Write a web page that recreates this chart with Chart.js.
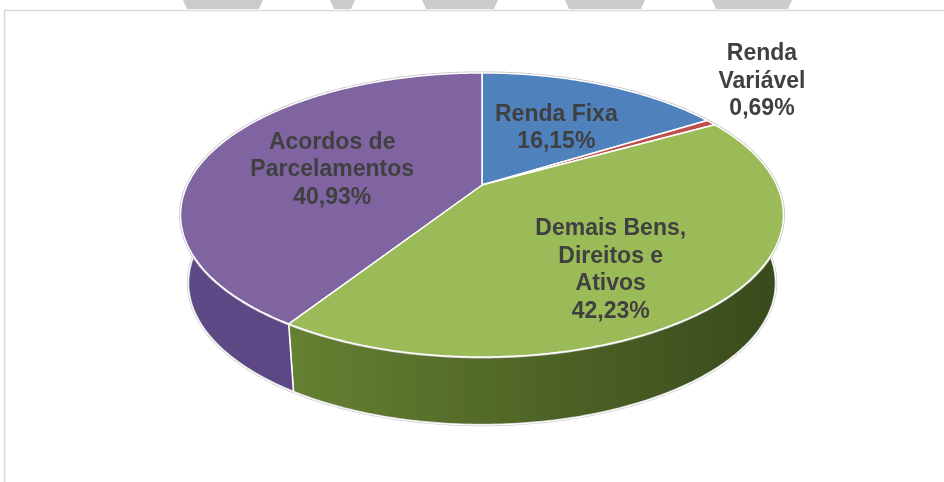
<!DOCTYPE html>
<html>
<head>
<meta charset="utf-8">
<script src="https://cdn.jsdelivr.net/npm/chart.js@4.4.0/dist/chart.umd.min.js"></script>
<style>
    html, body { margin: 0; padding: 0; background: #fff; }
    canvas { display: block; }
</style>
</head>
<body>
<canvas id="chart-wrapper" width="944" height="482"></canvas>
<script>
const categories = ['Renda Fixa', 'Renda Variável', 'Demais Bens, Direitos e Ativos', 'Acordos de Parcelamentos'];
const shares = [16.15, 0.69, 42.23, 40.93];
const labelLines = [['Renda Fixa'], ['Renda', 'Variável'], ['Demais Bens,', 'Direitos e', 'Ativos'], ['Acordos de', 'Parcelamentos']];

const topColors = ['#4f81bd', '#c0504d', '#9bbb59', '#8064a2'];
const sideColors = [['#3f6a9c', '#2f5080'], ['#9c3e3b', '#7e302e'], ['#6e8c36', '#394a1b'], ['#5e4987', '#554179']];

// perspective of the tilted pie
const K = 0.211;
const labelRadius = [0.6, 1.0, 0.6, 0.6];
const labelNudge = [[-3, 7], [51, -41], [-5, 20], [14, 7]];

function proj(g, t, f) {
    const x = Math.cos(t) * f, y = Math.sin(t) * f;
    const w = 1 - K * y;
    return [g.cx + g.A * x / w, g.cy + g.B * y / w];
}

function projBottom(g, t) {
    const p = proj(g, t, 1);
    return [g.cx + (p[0] - g.cx) * 0.975, p[1] + g.D];
}

function geom(chart) {
    const arc = chart.getDatasetMeta(0).data[0];
    const R = arc.outerRadius;
    return { cx: arc.x, cy: arc.y, A: R * 2.631, B: R * 1.2116, D: R * 0.607 };
}

function pct(v) {
    return v.toFixed(2).replace('.', ',') + '%';
}

const pie3d = {
    id: 'pie3d',
    beforeDraw: (chart) => {
        const { ctx } = chart;
        ctx.save();
        // watermark bits along the top
        ctx.fillStyle = '#cbcbcb';
        [[183, 263], [330, 355], [422, 498], [565, 645], [712, 792]].forEach(b => {
            ctx.beginPath();
            ctx.moveTo(b[0], 0);
            ctx.lineTo(b[1], 0);
            ctx.lineTo(b[1] - 4, 9);
            ctx.lineTo(b[0] + 4, 9);
            ctx.closePath();
            ctx.fill();
        });
        // chart frame
        ctx.strokeStyle = '#d9d9d9';
        ctx.lineWidth = 1.5;
        ctx.beginPath();
        ctx.moveTo(944, 10.5);
        ctx.lineTo(4.5, 10.5);
        ctx.lineTo(4.5, 482);
        ctx.stroke();
        ctx.restore();
    },
    beforeDatasetsDraw: (chart) => {
        const { ctx } = chart;
        const arcs = chart.getDatasetMeta(0).data;
        if (!arcs.length) return false;
        const g = geom(chart);
        const step = Math.PI / 360;
        ctx.save();

        // side walls (front half only)
        arcs.forEach((arc, i) => {
            const a = Math.max(arc.startAngle, 0);
            const b = Math.min(arc.endAngle, Math.PI);
            if (b <= a) return;
            const top = [], bot = [];
            for (let t = a; t < b; t += step) {
                top.push(proj(g, t, 1));
                bot.push(projBottom(g, t));
            }
            top.push(proj(g, b, 1));
            bot.push(projBottom(g, b));
            const grad = ctx.createLinearGradient(g.cx - g.A, 0, g.cx + g.A, 0);
            grad.addColorStop(0, sideColors[i][0]);
            grad.addColorStop(1, sideColors[i][1]);
            ctx.beginPath();
            top.forEach((p, j) => j ? ctx.lineTo(p[0], p[1]) : ctx.moveTo(p[0], p[1]));
            for (let j = bot.length - 1; j >= 0; j--) ctx.lineTo(bot[j][0], bot[j][1]);
            ctx.closePath();
            ctx.fillStyle = grad;
            ctx.fill();
            // bottom rim
            ctx.beginPath();
            bot.forEach((p, j) => j ? ctx.lineTo(p[0], p[1]) : ctx.moveTo(p[0], p[1]));
            ctx.strokeStyle = '#c8c8c8';
            ctx.lineWidth = 2.5;
            ctx.stroke();
            ctx.strokeStyle = '#ffffff';
            ctx.lineWidth = 1.2;
            ctx.stroke();
            // vertical seam
            [arc.startAngle, arc.endAngle].forEach(t => {
                if (t > 0.2 && t < Math.PI - 0.2) {
                    const p = proj(g, t, 1), q = projBottom(g, t);
                    ctx.beginPath();
                    ctx.moveTo(p[0], p[1]);
                    ctx.lineTo(q[0], q[1]);
                    ctx.strokeStyle = '#ffffff';
                    ctx.lineWidth = 1.5;
                    ctx.stroke();
                }
            });
        });

        // soft grey halo round the top rim
        ctx.beginPath();
        for (let t = 0; t <= Math.PI * 2 + step; t += step) {
            const p = proj(g, t, 1);
            t ? ctx.lineTo(p[0], p[1]) : ctx.moveTo(p[0], p[1]);
        }
        ctx.closePath();
        ctx.strokeStyle = '#c4c4c4';
        ctx.lineWidth = 3;
        ctx.stroke();

        // top faces
        arcs.forEach((arc, i) => {
            ctx.beginPath();
            ctx.moveTo(g.cx, g.cy);
            for (let t = arc.startAngle; t < arc.endAngle; t += step) {
                const p = proj(g, t, 1);
                ctx.lineTo(p[0], p[1]);
            }
            const e = proj(g, arc.endAngle, 1);
            ctx.lineTo(e[0], e[1]);
            ctx.closePath();
            ctx.fillStyle = topColors[i];
            ctx.fill();
            ctx.strokeStyle = '#ffffff';
            ctx.lineWidth = 1.5;
            ctx.lineJoin = 'round';
            ctx.stroke();
        });
        ctx.restore();
        return false;
    },
    afterDraw: (chart) => {
        const { ctx } = chart;
        const arcs = chart.getDatasetMeta(0).data;
        if (!arcs.length) return;
        const g = geom(chart);
        ctx.save();
        ctx.font = 'bold 23px "Liberation Sans", Arial, sans-serif';
        ctx.fillStyle = '#404040';
        ctx.textAlign = 'center';
        ctx.textBaseline = 'middle';
        const lh = 27.5;
        arcs.forEach((arc, i) => {
            const mid = (arc.startAngle + arc.endAngle) / 2;
            const p = proj(g, mid, labelRadius[i]);
            const lines = labelLines[i].concat([pct(shares[i])]);
            const x = p[0] + labelNudge[i][0];
            const y0 = p[1] + labelNudge[i][1] - (lines.length - 1) * lh / 2;
            lines.forEach((s, j) => ctx.fillText(s, x, y0 + j * lh));
        });
        ctx.restore();
    }
};

const ctx = document.getElementById('chart-wrapper');
const myChart = new Chart(ctx, {
    type: 'pie',
    data: {
        labels: categories,
        datasets: [{
            data: shares,
            backgroundColor: topColors,
            borderWidth: 0,
            hoverOffset: 0,
        }],
    },
    options: {
        responsive: false,
        animation: false,
        events: [],
        layout: {
            padding: { left: 180, right: 160, top: 73, bottom: 185 }
        },
        plugins: {
            legend: { display: false },
            tooltip: { enabled: false },
        },
    },
    plugins: [pie3d],
});
</script>
</body>
</html>
